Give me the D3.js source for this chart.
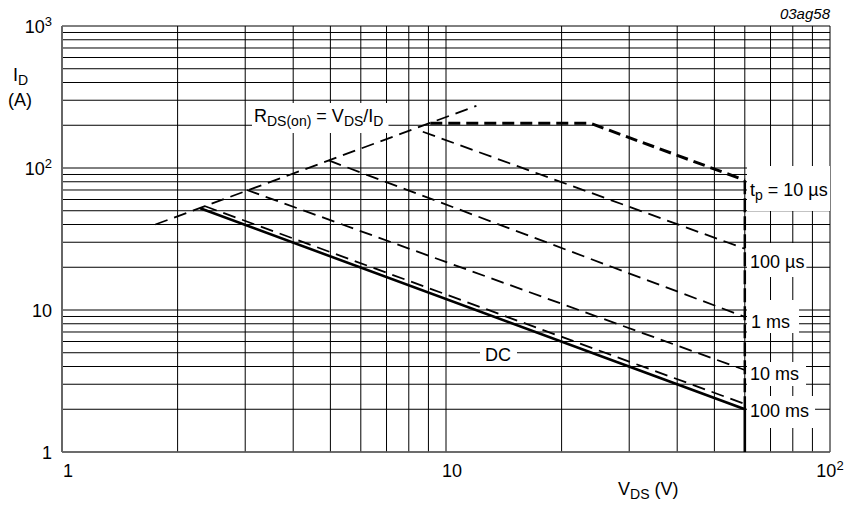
<!DOCTYPE html>
<html><head><meta charset="utf-8">
<script src="https://cdn.jsdelivr.net/npm/d3@7"></script>
<style>
body{margin:0;background:#fff;}
svg{display:block;font-family:"Liberation Sans",Arial,Helvetica,sans-serif;}
</style></head>
<body>
<svg id="c" width="857" height="507"></svg>
<script>
// ---- data ----
const xGrid = [1,2,3,4,5,6,7,8,9,10,20,30,40,50,60,70,80,90,100];
const yGrid = [1,2,3,4,5,6,7,8,9,10,20,30,40,50,60,70,80,90,100,200,300,400,500,600,700,800,900,1000];
const xTickLabels = [{v:1,base:"1",sup:""},{v:10,base:"10",sup:""},{v:100,base:"10",sup:"2"}];
const yTickLabels = [{v:1,base:"1",sup:""},{v:10,base:"10",sup:""},{v:100,base:"10",sup:"2"},{v:1000,base:"10",sup:"3"}];

const rdsV = [1.75, 12];    const rdsI = [40, 274];
const tp10usV = [9.1, 23.7, 60]; const tp10usI = [207, 207, 82];
const tp100usV = [8.7, 60]; const tp100usI = [180, 27];
const tp1msV = [4.95, 60];  const tp1msI = [113, 8.95];
const tp10msV = [3.03, 60]; const tp10msI = [70, 3.78];
const tp100msV = [2.35, 60]; const tp100msI = [54, 2.18];
const dcV = [2.29, 60, 60]; const dcI = [52, 2.0, 1];
const limitV = [60, 60];    const limitI = [82, 2.0];

// ---- scales ----
const svg = d3.select("#c");
const x = d3.scaleLog().domain([1,100]).range([62,830]);
const y = d3.scaleLog().domain([1,1000]).range([452,26]);
const FS = 18, SFS = 14;

// grid
const g = svg.append("g");
g.selectAll(".vx").data(xGrid).join("line")
  .attr("x1",d=>x(d)).attr("x2",d=>x(d)).attr("y1",y(1)).attr("y2",y(1000))
  .attr("stroke","#000").attr("stroke-width",1);
g.selectAll(".hy").data(yGrid).join("line")
  .attr("y1",d=>y(d)).attr("y2",d=>y(d)).attr("x1",x(1)).attr("x2",x(100))
  .attr("stroke","#000").attr("stroke-width",1);
g.append("line").attr("x1",x(1)).attr("x2",x(1)).attr("y1",y(1)).attr("y2",y(1000)).attr("stroke","#666").attr("stroke-width",2);
g.append("line").attr("x1",x(1)).attr("x2",x(100)).attr("y1",y(1)).attr("y2",y(1)).attr("stroke","#666").attr("stroke-width",1.5);

// labels inside chart (with white masks)  pad = [left,right,top(above cap),bottom(below baseline)]
const labels = [
  {parts:[["R",0],["DS(on)",1],[" = V",0],["DS",1],["/I",0],["D",1]], x:254, y:122, pad:[2,5,6,11]},
  {parts:[["t",0],["p",1],[" = 10 \u00b5s",0]], x:750, y:196, pad:[3,"edge",17,15]},
  {parts:[["100 \u00b5s",0]], x:750, y:268, pad:[3,2,12,9]},
  {parts:[["1 ms",0]], x:751, y:328, pad:[4,9,15,5]},
  {parts:[["10 ms",0]], x:750, y:380, pad:[3,7,5,6]},
  {parts:[["100 ms",0]], x:750, y:417, pad:[3,6,8,11]},
  {parts:[["DC",0]], x:485, y:361, pad:[5,6,4,4]}
];
const maskG = svg.append("g");
const lineG = svg.append("g");
const textG = svg.append("g");

function richText(sel, parts, fs, subFs){
  let prevSub = false;
  parts.forEach(([t,s])=>{
    const ts = sel.append("tspan").text(t).attr("font-size", s? subFs: fs);
    if(s && !prevSub) ts.attr("dy", 4);
    if(!s && prevSub) ts.attr("dy", -4);
    prevSub = !!s;
  });
}
labels.forEach(L=>{
  const t = textG.append("text").attr("x",L.x).attr("y",L.y).attr("fill","#000");
  richText(t, L.parts, FS, SFS);
  const b = t.node().getBBox();
  const [pl,pr,pt,pb] = L.pad;
  const top = L.y - 13 - pt, bot = L.y + pb;
  const left = b.x - pl;
  const right = pr === "edge" ? x(100) : b.x + b.width + pr;
  maskG.append("rect").attr("x", left).attr("y", top)
    .attr("width", right - left).attr("height", bot - top).attr("fill","#fff");
});

// curves
const line = d3.line().x(d=>x(d[0])).y(d=>y(d[1]));
const zip = (a,b)=>a.map((v,i)=>[v,b[i]]);
const dash = "13,7";
lineG.append("path").attr("d",line(zip(rdsV,rdsI))).attr("fill","none").attr("stroke","#000").attr("stroke-width",1.8).attr("stroke-dasharray",dash);
lineG.append("path").attr("d",line(zip(tp10usV,tp10usI))).attr("fill","none").attr("stroke","#000").attr("stroke-width",3).attr("stroke-dasharray","12,6");
[[tp100usV,tp100usI],[tp1msV,tp1msI],[tp10msV,tp10msI],[tp100msV,tp100msI]].forEach(([v,i])=>{
  lineG.append("path").attr("d",line(zip(v,i))).attr("fill","none").attr("stroke","#000").attr("stroke-width",1.8).attr("stroke-dasharray",dash);
});
lineG.append("path").attr("d",line(zip(limitV,limitI))).attr("fill","none").attr("stroke","#000").attr("stroke-width",2.5).attr("stroke-dasharray","14,4");
lineG.append("path").attr("d",line(zip(dcV,dcI))).attr("fill","none").attr("stroke","#000").attr("stroke-width",2.6);

// tick labels
function supText(sel, base, sup){
  sel.append("tspan").text(base).attr("font-size",FS);
  if(sup) sel.append("tspan").text(sup).attr("font-size",13).attr("dy",-7);
}
yTickLabels.forEach(d=>{
  const t = svg.append("text").attr("x",52).attr("y",y(d.v)+7).attr("text-anchor","end");
  supText(t,d.base,d.sup);
});
xTickLabels.forEach(d=>{
  const t = svg.append("text").attr("x",x(d.v)+(d.v===100?0:6)).attr("y",477).attr("text-anchor","middle");
  supText(t,d.base,d.sup);
});

// axis titles
const yt = svg.append("text").attr("x",13).attr("y",81);
richText(yt,[["I",0],["D",1]],FS,SFS);
svg.append("text").attr("x",8).attr("y",106).attr("font-size",FS).text("(A)");
const xt = svg.append("text").attr("x",618).attr("y",495);
richText(xt,[["V",0],["DS",1],[" (V)",0]],FS,SFS);
svg.append("text").attr("x",830).attr("y",19).attr("text-anchor","end")
  .attr("font-size",15).attr("font-style","italic").text("03ag58");
</script>
</body></html>
